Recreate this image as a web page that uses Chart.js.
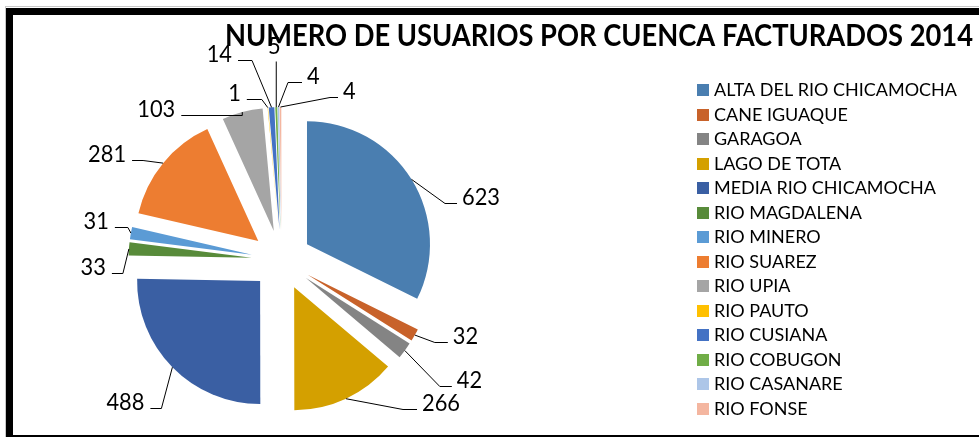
<!DOCTYPE html>
<html><head><meta charset="utf-8">
<script src="https://cdn.jsdelivr.net/npm/chart.js@4.4.0/dist/chart.umd.min.js"></script>
<style>
html,body{margin:0;padding:0;background:#fff;width:979px;height:437px;overflow:hidden}
#wrap{position:absolute;left:0;top:0;width:979px;height:437px}
canvas{position:absolute;left:0;top:0}
.frame{position:absolute;left:6px;top:8px;width:1000px;height:420px;border:7px solid #000;border-right:none;box-sizing:content-box;pointer-events:none}
.gl{position:absolute;background:#c8c8c8}
</style></head><body>
<div id="wrap"><canvas id="c" width="979" height="437"></canvas>
<div class="gl" style="left:5px;top:6px;width:974px;height:1px"></div>
<div class="gl" style="left:5px;top:6px;width:1px;height:431px"></div>
<div class="frame"></div></div>
<script>
// ---- data ----
const chartTitle = 'NUMERO DE USUARIOS POR CUENCA FACTURADOS 2014';
const categories = ['ALTA DEL RIO CHICAMOCHA','CANE IGUAQUE','GARAGOA','LAGO DE TOTA','MEDIA RIO CHICAMOCHA','RIO MAGDALENA','RIO MINERO','RIO SUAREZ','RIO UPIA','RIO PAUTO','RIO CUSIANA','RIO COBUGON','RIO CASANARE','RIO FONSE'];
const usuarios = [623,32,42,266,488,33,31,281,103,1,14,5,4,4];

// ---- styles ----
const sliceColors = ['#4A7EB0','#C8622A','#848484','#D4A000','#3A5FA3','#588B3A','#5B9BD5','#ED7D31','#A5A5A5','#FFC000','#4472C4','#70AD47','#ADC6E8','#F4B6A0'];
const EXPLODE = 30;
// leader layout: [elbow dx, elbow dy, horizontal tail] relative to slice outer midpoint
const labelLayout = [
  [33.5, 23.6, 12],
  [20, 7, 13],
  [35, 35, 12],
  [57, 10, 14],
  [-11, 41, -11],
  [-6, 24, -11],
  [-3, -6, -13],
  [-20, -3, -11],
  [0, 3, -61],
  [-6, -9, -15],
  [-19.5, -47, -14],
  [0, -46, 0],
  [9.5, -25, 14],
  [49.5, -10, 8]
];
const FONT = 'Lato, "Open Sans", sans-serif';

// horizontal squeeze factor so that `text` at `font` spans `target` px
function squeeze(ctx, font, text, target){
  ctx.font = font;
  return target / ctx.measureText(text).width;
}
function drawText(ctx, text, x, y, align, sx){
  ctx.save();
  ctx.translate(x, y);
  ctx.scale(sx, 1);
  ctx.textAlign = align;
  ctx.fillText(text, 0, 0);
  ctx.restore();
}

const explodePlugin = {
  id: 'explode',
  beforeDatasetDraw(chart, args){
    const ctx = chart.ctx;
    args.meta.data.forEach(arc => {
      const a = (arc.startAngle + arc.endAngle) / 2;
      ctx.save();
      ctx.translate(Math.cos(a) * EXPLODE, Math.sin(a) * EXPLODE);
      arc.draw(ctx);
      ctx.restore();
    });
    return false;
  }
};

const decorPlugin = {
  id: 'decor',
  afterDatasetsDraw(chart){
    const ctx = chart.ctx;
    const meta = chart.getDatasetMeta(0);
    const lblFont = '23.5px ' + FONT;
    const lsx = squeeze(ctx, lblFont, '623', 38);
    ctx.save();
    ctx.strokeStyle = '#000';
    ctx.lineWidth = 1;
    ctx.fillStyle = '#000';
    ctx.font = lblFont;
    ctx.textBaseline = 'alphabetic';
    meta.data.forEach((arc, i) => {
      const a = (arc.startAngle + arc.endAngle) / 2;
      const R = arc.outerRadius + EXPLODE;
      const sx = arc.x + Math.cos(a) * R, sy = arc.y + Math.sin(a) * R;
      const L = labelLayout[i];
      const ex = sx + L[0], ey = Math.round(sy + L[1]) + 0.5;
      const tx = ex + L[2];
      ctx.beginPath();
      ctx.moveTo(sx, sy);
      ctx.lineTo(ex, ey);
      if (L[2]) ctx.lineTo(tx, ey);
      ctx.stroke();
      const txt = String(usuarios[i]);
      if (L[2] > 0) drawText(ctx, txt, tx + 5, ey + 1, 'left', lsx);
      else if (L[2] < 0) drawText(ctx, txt, tx - 6, ey + 1, 'right', lsx);
      else drawText(ctx, txt, ex - 2, ey - 8, 'center', lsx);
    });
    ctx.restore();
  },
  afterDraw(chart){
    const ctx = chart.ctx;
    ctx.save();
    ctx.fillStyle = '#000';
    ctx.textBaseline = 'alphabetic';
    // title
    const tFont = 'bold 29.5px ' + FONT;
    const tsx = squeeze(ctx, tFont, chartTitle, 748);
    drawText(ctx, chartTitle, 225, 46, 'left', tsx);
    // legend
    const lFont = '17.4px ' + FONT;
    const gsx = squeeze(ctx, lFont, categories[0], 243);
    categories.forEach((c, i) => {
      const base = 96 + 24.5 * i;
      ctx.fillStyle = sliceColors[i];
      ctx.fillRect(697, Math.round(base - 12), 12, 12);
      ctx.fillStyle = '#000';
      drawText(ctx, c, 714, base, 'left', gsx);
    });
    ctx.restore();
  }
};

new Chart(document.getElementById('c'), {
  type: 'pie',
  data: {
    labels: categories,
    datasets: [{
      data: usuarios,
      backgroundColor: sliceColors,
      borderWidth: 0,
      offset: 0
    }]
  },
  options: {
    responsive: false,
    animation: false,
    events: [],
    devicePixelRatio: 1,
    layout: { padding: { left: 158.5, right: 574.5, top: 137, bottom: 54 } },
    plugins: { legend: { display: false }, title: { display: false }, tooltip: { enabled: false } }
  },
  plugins: [explodePlugin, decorPlugin]
});
</script>
</body></html>
